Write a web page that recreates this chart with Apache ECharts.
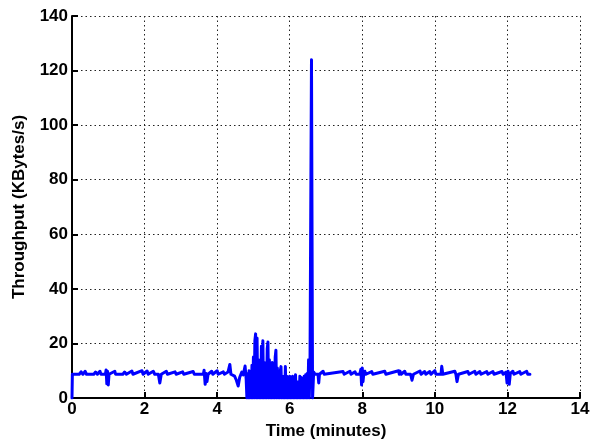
<!DOCTYPE html>
<html>
<head>
<meta charset="utf-8">
<script src="https://cdn.jsdelivr.net/npm/echarts@6/dist/echarts.min.js"></script>
<style>
html,body{margin:0;padding:0;background:#fff;}
#chart{width:597px;height:445px;}
</style>
</head>
<body>
<div id="chart"></div>
<script>
// Time (minutes)
var timeMin = [
  0.00,0.01,0.20,0.25,0.30,0.36,0.40,0.60,0.65,0.70,0.77,0.80,0.92,0.94,0.96,0.98,1.00,1.02,
  1.18,1.20,1.40,1.45,1.50,1.65,1.68,1.93,1.96,2.07,2.10,2.24,2.28,2.38,2.42,2.46,2.60,2.63,
  2.84,2.87,3.05,3.08,3.34,3.37,3.62,3.64,3.67,3.70,3.72,3.75,3.85,3.88,4.00,4.03,4.17,4.20,
  4.30,4.35,4.38,4.48,4.53,4.58,4.62,4.68,4.72,4.77,4.80,
  4.82,4.84,4.86,4.88,4.90,4.92,4.94,4.96,4.98,5.00,5.02,5.04,5.06,5.08,5.10,5.12,5.14,5.16,
  5.18,5.20,5.22,5.24,5.26,5.28,5.30,5.32,5.34,5.36,5.38,5.40,5.42,5.44,5.46,5.48,5.50,5.52,
  5.54,5.56,5.58,5.60,5.62,5.64,5.66,5.68,5.70,5.72,5.74,5.76,5.78,5.80,5.82,5.84,5.86,5.88,
  5.90,5.92,5.94,5.96,5.98,6.00,6.02,6.04,6.06,6.08,6.10,6.12,6.14,6.16,6.18,6.20,6.22,6.24,
  6.26,6.28,6.30,6.32,6.34,6.36,6.38,6.40,6.42,6.44,6.46,6.48,6.50,6.52,6.54,6.56,6.60,6.63,
  6.66,6.70,6.78,6.80,6.82,6.92,6.95,7.47,7.50,7.66,7.69,7.80,7.83,7.93,7.96,7.98,8.00,8.02,
  8.04,8.07,8.10,8.26,8.29,8.62,8.65,9.00,9.02,9.04,9.07,9.17,9.20,9.33,9.37,9.41,9.59,9.62,
  9.72,9.75,9.86,9.89,10.00,10.03,10.17,10.19,10.22,10.55,10.58,10.61,10.65,10.91,10.94,
  11.10,11.13,11.24,11.27,11.43,11.46,11.60,11.63,11.85,11.88,11.96,11.99,12.02,12.05,12.08,
  12.15,12.18,12.34,12.37,12.53,12.56,12.62
];
// Throughput (KBytes/s)
var throughput = [
  0,8.7,8.7,9.6,8.7,9.8,8.7,8.7,9.5,8.7,9.8,8.7,8.7,10.3,5.2,9.8,4.8,8.7,
  9.8,8.7,8.7,9.5,8.7,9.9,8.7,10.0,8.7,9.9,8.7,9.8,8.7,8.7,5.5,8.7,9.8,8.7,
  9.6,8.7,9.6,8.7,9.7,8.7,8.7,10.2,5.0,9.0,6.0,8.7,9.8,8.7,10.0,8.7,9.6,8.7,
  9.5,12.3,8.7,8.0,6.5,4.4,7.5,9.5,8.5,11.7,7.0,
  0,9,0,10,0,8,0,12,0,15,0,21,23.5,0,22,0,14,0,
  12,0,19,0,21,0,13,0,11,0,18,20.5,0,14,0,9,0,13,
  0,10,0,15,17.5,0,11,0,8,0,10,11.5,0,7,0,8,0,11.5,
  0,8,0,6,0,8,0,5,0,8,0,6,0,8.5,0,5,0,6,
  0,8,0,7.5,0,5,0,8,0,8.5,0,9,0,14,0,14.5,124,0,
  9.5,8.7,8.7,5.5,8.7,9.8,8.7,9.7,8.7,9.8,8.7,9.6,8.7,8.7,10.5,4.8,11.0,6.0,
  8.7,9.8,8.7,9.7,8.7,9.8,8.7,10.0,8.7,9.8,8.7,9.8,8.7,8.7,6.5,8.7,9.9,8.7,
  9.7,8.7,9.7,8.7,10.0,8.7,8.7,11.6,8.7,9.8,8.7,6.0,8.7,9.7,8.7,
  9.8,8.7,9.7,8.7,9.7,8.7,9.7,8.7,9.7,8.7,9.5,5.5,9.8,5.0,9.0,
  9.8,8.7,9.7,8.7,9.8,8.7,8.7
];
var xTicks = {min: 0, max: 14, interval: 2};
var yTicks = {min: 0, max: 140, interval: 20};

var seriesData = timeMin.map(function (t, i) { return [t, throughput[i]]; });

var font = '"Liberation Sans", Arial, sans-serif';
var gridStyle = {show: true, lineStyle: {color: '#222', width: 1, type: [1.5, 3]}};

var chart = echarts.init(document.getElementById('chart'), null, {renderer: 'canvas'});
chart.setOption({
  animation: false,
  backgroundColor: '#fff',
  grid: {left: 72, right: 17, top: 16, bottom: 45, containLabel: false},
  xAxis: {
    type: 'value', min: xTicks.min, max: xTicks.max, interval: xTicks.interval,
    name: 'Time (minutes)', nameLocation: 'middle', nameGap: 25,
    nameTextStyle: {fontFamily: font, fontWeight: 'bold', fontSize: 17, color: '#000'},
    axisLine: {show: true, onZero: false, lineStyle: {color: '#000', width: 2}},
    axisTick: {show: true, inside: true, length: 6, lineStyle: {color: '#000', width: 2}},
    axisLabel: {fontFamily: font, fontWeight: 'bold', fontSize: 17, color: '#000', margin: 3},
    splitLine: gridStyle
  },
  yAxis: {
    type: 'value', min: yTicks.min, max: yTicks.max, interval: yTicks.interval,
    name: 'Throughput (KBytes/s)', nameLocation: 'middle', nameGap: 44,
    nameTextStyle: {fontFamily: font, fontWeight: 'bold', fontSize: 17, color: '#000'},
    axisLine: {show: true, onZero: false, lineStyle: {color: '#000', width: 2}},
    axisTick: {show: true, inside: true, length: 6, lineStyle: {color: '#000', width: 2}},
    axisLabel: {fontFamily: font, fontWeight: 'bold', fontSize: 17, color: '#000', margin: 4},
    splitLine: gridStyle
  },
  series: [{
    type: 'line',
    data: seriesData,
    showSymbol: false,
    symbol: 'none',
    smooth: false,
    lineStyle: {color: '#0000ff', width: 3, join: 'round', cap: 'round'},
    itemStyle: {color: '#0000ff'},
    z: 3
  }]
});
</script>
</body>
</html>
